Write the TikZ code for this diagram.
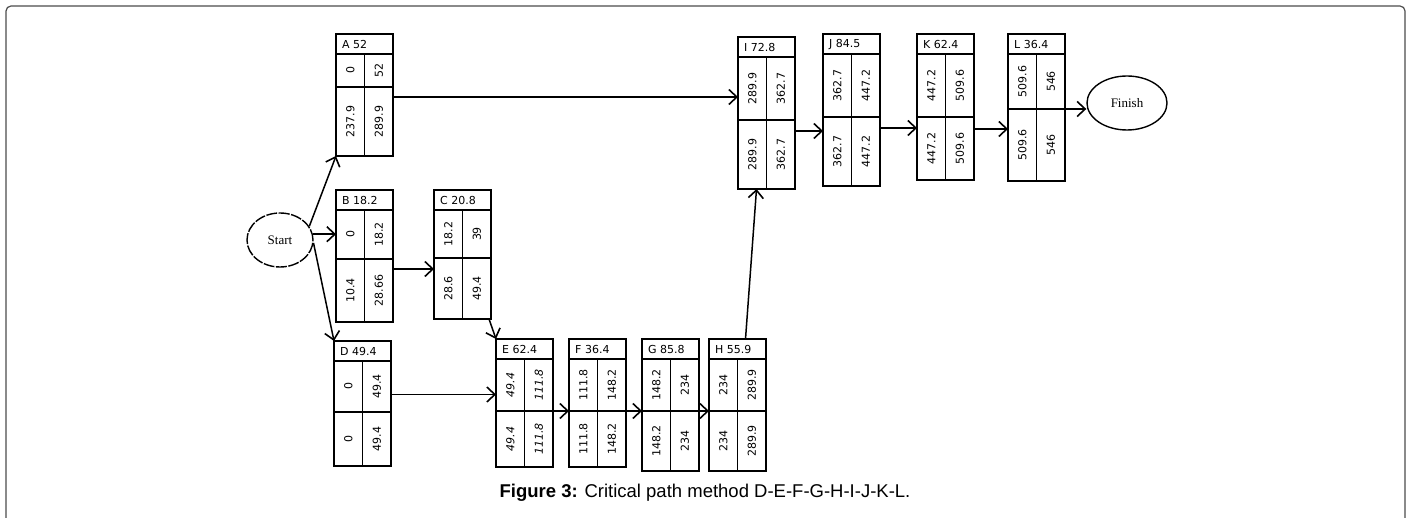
\documentclass[tikz,border=0pt]{standalone}
\usepackage{fontspec}
\setmainfont{Liberation Serif}
\newfontfamily\boxfont{DejaVu Sans}
\newfontfamily\capfont{Liberation Sans}
\usetikzlibrary{arrows.meta,shapes.geometric}
\begin{document}
\begin{tikzpicture}[x=1pt,y=-1pt,
        box/.style={draw, line width=1.3pt, minimum width=57pt, inner sep=0pt, outer sep=0pt},
        cell/.style={line width=1.3pt},
        arr/.style={line width=1.5pt, -{Straight Barb[length=8pt,width=15pt,line width=1.6pt]}},
        evt/.style={draw, ellipse, line width=1.4pt, inner sep=0pt, font=\fontsize{13}{15}\selectfont}]
                \useasboundingbox (0,0) rectangle (1410,518);
                \draw[gray!60!black, line width=1.2pt, rounded corners=5pt] (6,530) -- (6,6) -- (1405,6) -- (1405,530);
                % activity boxes: name/duration/left/top/split/bottom/ES/EF/LS/LF/shape
                \foreach \nm/\dur/\x/\t/\s/\b/\es/\ef/\ls/\lf/\sh in {
                        A/52/336/34/87/156/0/52/237.9/289.9/n,
                        B/18.2/336/190/259/322/0/18.2/10.4/28.66/n,
                        C/20.8/434/190/258/319/18.2/39/28.6/49.4/n,
                        D/49.4/334/341/412/466/0/49.4/0/49.4/n,
                        E/62.4/496/339/411/467/49.4/111.8/49.4/111.8/it,
                        F/36.4/569/339/411/467/111.8/148.2/111.8/148.2/n,
                        G/85.8/642/339/411/471/148.2/234/148.2/234/n,
                        H/55.9/709/339/411/471/234/289.9/234/289.9/n,
                        I/72.8/738/37/120/189/289.9/362.7/289.9/362.7/n,
                        J/84.5/823/34/117/186/362.7/447.2/362.7/447.2/n,
                        K/62.4/917/34/117/180/447.2/509.6/447.2/509.6/n,
                        L/36.4/1008/34/109/181/509.6/546/509.6/546/n}{
                    \node[box, minimum height={(\b-\t)*1pt}, anchor=north west] (\nm) at (\x,\t) {};
                    \coordinate (\nm-sl) at (\x,\s);
                    \coordinate (\nm-sr) at (\x+57,\s);
                    \draw[cell] (\x,\t+20) -- +(57,0);
                    \draw[cell] (\nm-sl) -- (\nm-sr);
                    \draw[cell] (\x+28.5,\t+20) -- (\x+28.5,\b);
                    \node[anchor=west, inner sep=0pt, font=\boxfont\fontsize{11}{13}\selectfont] at (\x+6,\t+10.5) {\nm\ \dur};
                    \node[rotate=90, inner sep=0pt, font=\boxfont\fontsize{11}{13}\fontshape{\sh}\selectfont] at (\x+14.25,{(\t+20+\s)/2}) {\es};
                    \node[rotate=90, inner sep=0pt, font=\boxfont\fontsize{11}{13}\fontshape{\sh}\selectfont] at (\x+42.75,{(\t+20+\s)/2}) {\ef};
                    \node[rotate=90, inner sep=0pt, font=\boxfont\fontsize{11}{13}\fontshape{\sh}\selectfont] at (\x+14.25,{(\s+\b)/2}) {\ls};
                    \node[rotate=90, inner sep=0pt, font=\boxfont\fontsize{11}{13}\fontshape{\sh}\selectfont] at (\x+42.75,{(\s+\b)/2}) {\lf};
                }
                \node[evt, dash pattern=on 11pt off 1.5pt, minimum width=66pt, minimum height=54pt] (Start) at (280,240) {Start};
                \node[evt, minimum width=80pt, minimum height=54pt] (Finish) at (1127,103) {Finish};
                \draw[arr] (Start.25) -- (A.south west);
                \draw[arr] (Start.10) -- (Start.10 -| B.west);
                \draw[arr] (Start.-5) -- (D.north west);
                \draw[arr] ([yshift=-2pt]A.east) -- ([yshift=-2pt]A.east -| I.west);
                \draw[arr] ([yshift=-13pt]B.east) -- ([yshift=-13pt]B.east -| C.west);
                \draw[arr] ([xshift=-2pt]C.south east) -- (E.north west);
                \draw[arr] ([yshift=9pt]D.east) -- ([yshift=9pt]D.east -| E.west);
                \draw[arr] (E-sr) -- (F-sl);
                \draw[arr] (F-sr) -- (G-sl);
                \draw[arr] (G-sr) -- (H-sl);
                \draw[arr] ([xshift=8pt]H.north) -- ([xshift=-10pt]I.south);
                \draw[arr] ([yshift=-18pt]I.east) -- ([yshift=-18pt]I.east -| J.west);
                \draw[arr] ([yshift=-18pt]J.east) -- ([yshift=-18pt]J.east -| K.west);
                \draw[arr] ([yshift=-22pt]K.east) -- ([yshift=-22pt]K.east -| L.west);
                \draw[arr] (L-sr) -- (L-sr -| Finish.west);
                \node[anchor=base, inner sep=0pt, font=\capfont\fontsize{18.5}{22}\selectfont] (cap) at (705,497) {\textbf{Figure 3:} Critical path method D-E-F-G-H-I-J-K-L.};
            \end{tikzpicture}
\end{document}
